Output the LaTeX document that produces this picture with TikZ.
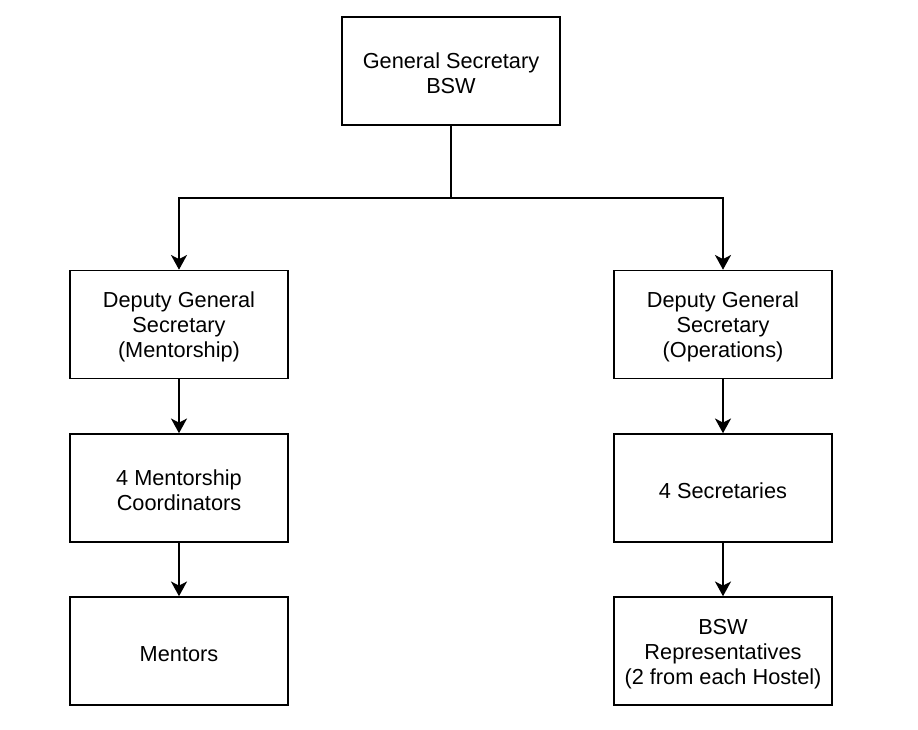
\documentclass[tikz,border=0pt]{standalone}
\usepackage{fontspec}
\setmainfont{Liberation Sans}
\usetikzlibrary{arrows.meta}
\begin{document}
\begin{tikzpicture}[x=0.75pt,y=-0.75pt,
  box/.style={draw=black,line width=1.2pt,minimum width=163.5pt,minimum height=81pt,inner sep=0pt,
    label={[txt]center:#1}},
  txt/.style={align=center,inner sep=0pt,yshift=-2pt,font=\fontsize{16.3pt}{18.75pt}\selectfont},
  conn/.style={line width=1.2pt,-{Stealth[length=11pt,width=12pt,inset=3pt]}}]
\useasboundingbox (0,0) rectangle (918,729);
\fill[white] (0,0) rectangle (918,729);
\node[box={General Secretary\\BSW}] (gs) at (451,71) {};
\node[box={Deputy General\\Secretary\\(Mentorship)}] (dgm) at (179,324.5) {};
\node[box={Deputy General\\Secretary\\(Operations)}] (dgo) at (723,324.5) {};
\node[box={4 Mentorship\\Coordinators}] (mc) at (179,488) {};
\node[box={4 Secretaries}] (sec) at (723,488) {};
\node[box={Mentors}] (men) at (179,651) {};
\node[box={BSW\\Representatives\\(2 from each Hostel)}] (rep) at (723,651) {};
\coordinate (br) at (451,198);
\draw[line width=1.2pt] (gs.south) -- (br);
\draw[conn] (br) -| (dgm.north);
\draw[conn] (br) -| (dgo.north);
\draw[conn] (dgm) -- (mc);
\draw[conn] (mc) -- (men);
\draw[conn] (dgo) -- (sec);
\draw[conn] (sec) -- (rep);
\end{tikzpicture}
\end{document}
